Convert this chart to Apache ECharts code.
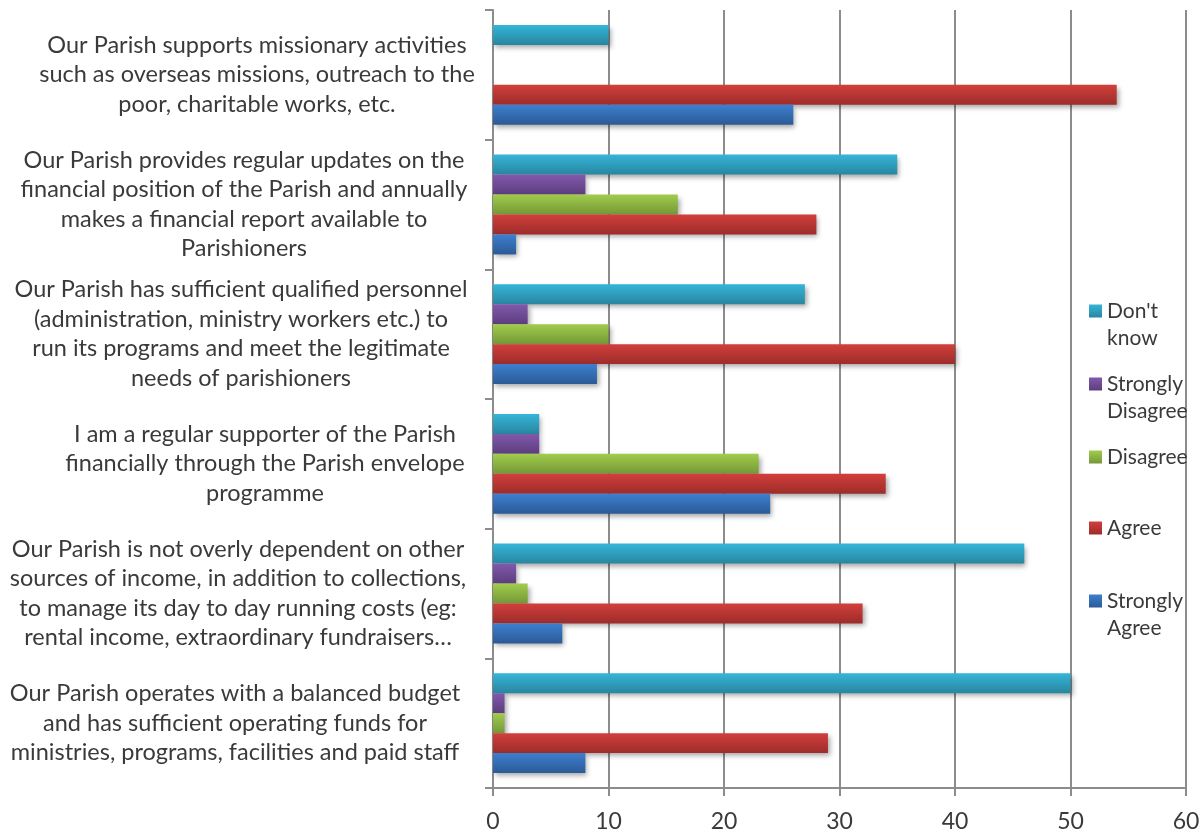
<!DOCTYPE html>
<html>
<head>
<meta charset="utf-8">
<script src="https://cdn.jsdelivr.net/npm/echarts@6/dist/echarts.min.js"></script>
<style>
  html, body { margin: 0; padding: 0; background: #fff; }
  #chart { width: 1204px; height: 834px; }
</style>
</head>
<body>
<div id="chart"></div>
<script>
// categories, bottom to top as on the axis
const categories = [
  'Our Parish operates with a balanced budget\nand has sufficient operating funds for\nministries, programs, facilities and paid staff',
  'Our Parish is not overly dependent on other\nsources of income, in addition to collections,\nto manage its day to day running costs (eg:\nrental income, extraordinary fundraisers…',
  'I am a regular supporter of the Parish\nfinancially through the Parish envelope\nprogramme',
  'Our Parish has sufficient qualified personnel\n(administration, ministry workers etc.) to\nrun its programs and meet the legitimate\nneeds of parishioners',
  'Our Parish provides regular updates on the\nfinancial position of the Parish and annually\nmakes a financial report available to\nParishioners',
  'Our Parish supports missionary activities\nsuch as overseas missions, outreach to the\npoor, charitable works, etc.'
];

const stronglyAgree = [8, 6, 24, 9, 2, 26];
const agree = [29, 32, 34, 40, 28, 54];
const disagree = [1, 3, 23, 10, 16, 0];
const stronglyDisagree = [1, 2, 4, 3, 8, 0];
const dontKnow = [50, 46, 4, 27, 35, 10];

const xTicks = [0, 10, 20, 30, 40, 50, 60];

const FONT = 'Lato';

// Excel wraps each label in its own box, so the centres drift a bit
const labelShift = [-3, 0, 27, 3, 6, 19];

// series look (first series is drawn at the top of each group)
const looks = [
  { name: "Don't know", data: dontKnow, top: '#35b5d8', bottom: '#2886a0' },
  { name: 'Strongly Disagree', data: stronglyDisagree, top: '#8259ad', bottom: '#5c3d7e' },
  { name: 'Disagree', data: disagree, top: '#a1cc4c', bottom: '#749838' },
  { name: 'Agree', data: agree, top: '#d23f3c', bottom: '#9c2c2a' },
  { name: 'Strongly Agree', data: stronglyAgree, top: '#3d7fcf', bottom: '#2b5a96' }
];

const chart = echarts.init(document.getElementById('chart'));

const series = looks.map(function (s) {
  return {
    name: s.name,
    type: 'bar',
    data: s.data,
    barGap: '0%',
    barCategoryGap: '23%',
    itemStyle: {
      color: new echarts.graphic.LinearGradient(0, 0, 0, 1, [
        { offset: 0, color: s.top },
        { offset: 1, color: s.bottom }
      ]),
      shadowColor: 'rgba(0,0,0,0.35)',
      shadowBlur: 5,
      shadowOffsetX: 2,
      shadowOffsetY: 3
    }
  };
});

const labelStyle = {
  fontFamily: FONT,
  fontSize: 23.5,
  color: '#3a3a3a',
  align: 'center',
  lineHeight: 29.5
};

const catItems = categories.map(function (c, i) {
  const d = labelShift[i];
  return {
    value: c,
    textStyle: Object.assign({}, labelStyle, {
      padding: d >= 0 ? [0, 0, 0, 2 * d] : [0, -2 * d, 0, 0]
    })
  };
});

// one legend per item so they can sit at Excel's uneven spacing
// y = centre of the icon, which lines up with the first text line
const legendPos = [
  { name: "Don't know", y: 311, lines: 2 },
  { name: 'Strongly Disagree', y: 384, lines: 2 },
  { name: 'Disagree', y: 457, lines: 1 },
  { name: 'Agree', y: 528, lines: 1 },
  { name: 'Strongly Agree', y: 601, lines: 2 }
];
const LH = 27.5;
const legends = legendPos.map(function (l) {
  const two = l.lines === 2;
  return {
    data: [l.name],
    orient: 'vertical',
    left: 1089,
    top: two ? l.y - LH * 1.5 : l.y - LH / 2,
    padding: 0,
    icon: 'rect',
    itemWidth: 13,
    itemHeight: 13,
    selectedMode: false,
    // empty first line keeps the icon level with the first word
    formatter: function (n) { return two ? '\n' + n.replace(' ', '\n') : n; },
    textStyle: {
      fontFamily: FONT,
      fontSize: 21,
      color: '#3a3a3a',
      lineHeight: LH
    }
  };
});

chart.setOption({
  animation: false,
  textStyle: { fontFamily: FONT },
  legend: legends,
  grid: { left: 493, right: 18, top: 10, bottom: 46, outerBoundsMode: 'none' },
  xAxis: {
    type: 'value',
    min: xTicks[0],
    max: xTicks[xTicks.length - 1],
    interval: 10,
    axisLine: { show: true, lineStyle: { color: '#8c8c8c', width: 2 } },
    axisTick: { show: true, length: 8, lineStyle: { color: '#8c8c8c', width: 2 } },
    axisLabel: { fontFamily: FONT, fontSize: 23, color: '#3a3a3a', margin: 22 },
    splitLine: { show: true, lineStyle: { color: '#8c8c8c', width: 2 } }
  },
  yAxis: {
    type: 'category',
    data: catItems,
    axisLine: { show: true, lineStyle: { color: '#8c8c8c', width: 2 } },
    axisTick: { show: true, length: 8, lineStyle: { color: '#8c8c8c', width: 2 } },
    axisLabel: Object.assign({}, labelStyle, { margin: 255 })
  },
  series: series
});
</script>
</body>
</html>
